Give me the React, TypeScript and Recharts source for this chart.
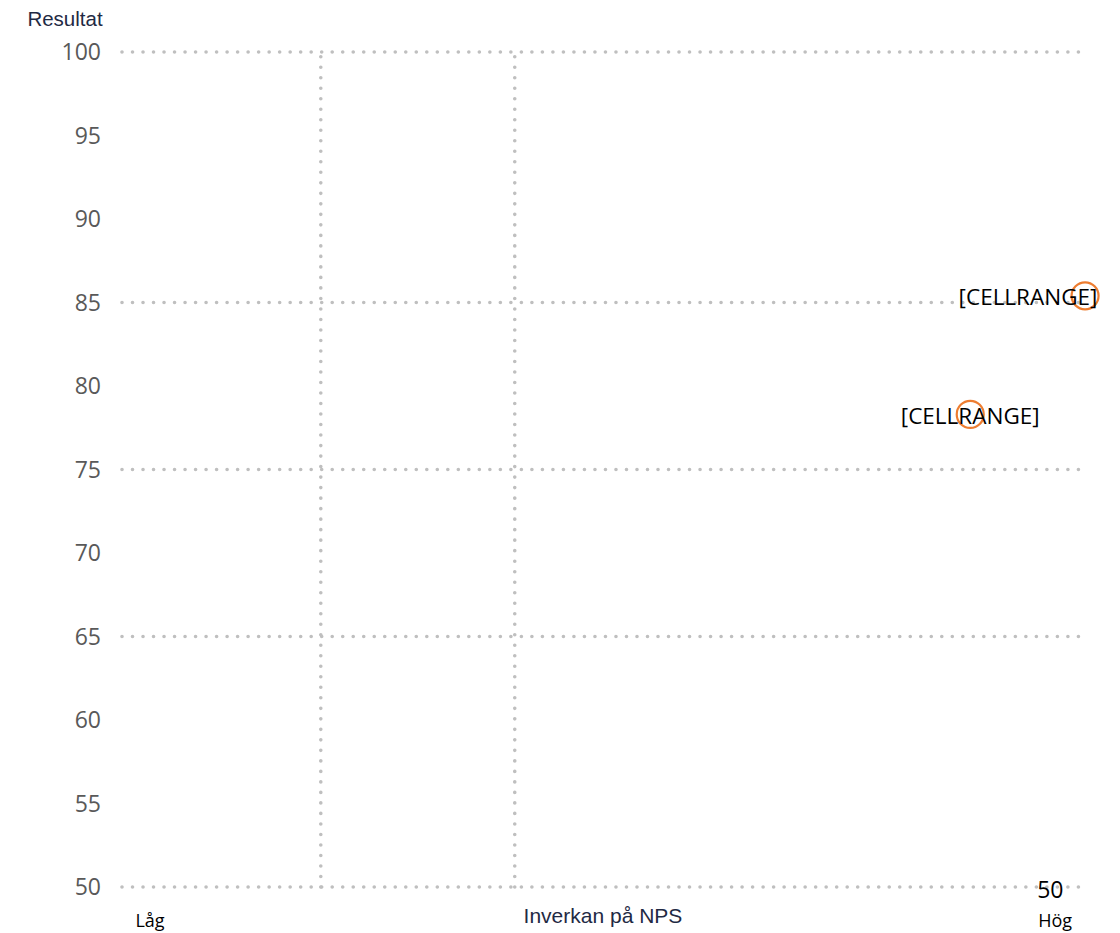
import React from 'react';
import {
  ScatterChart, Scatter, XAxis, YAxis, ReferenceLine, LabelList
} from 'recharts';

// Värden
const yTicks = [50, 55, 60, 65, 70, 75, 80, 85, 90, 95, 100];
const gridY = [50, 65, 75, 85, 100];
const avgX = [20.6, 40.7];
const xTicks = [2.9, 96.7];
const xTickLabels = ['Låg', 'Hög'];

const points = [
  { x: 99.8, y: 85.4, label: '[CELLRANGE]' },
  { x: 87.9, y: 78.3, label: '[CELLRANGE]' },
];
const extraPoints = [{ x: 96.2, y: 50, label: '50' }];

const W = 1120;
const H = 933;
const GRID = '#BFBFBF';
const ORANGE = '#ED7D31';
const NAVY = '#1F2A44';

const dotted = {
  stroke: GRID,
  strokeWidth: 3.6,
  strokeDasharray: '0.01 10.5',
  strokeLinecap: 'round' as const,
};

const Ring = (props: any) => {
  const { cx, cy } = props;
  return <circle cx={cx} cy={cy} r={13.5} fill="none" stroke={ORANGE} strokeWidth={2.2} />;
};

const NoShape = () => <g />;

const centerOf = (props: any) => {
  const vb = props.viewBox;
  if (vb && vb.width != null) {
    return { cx: vb.x + vb.width / 2, cy: vb.y + vb.height / 2 };
  }
  return { cx: props.x, cy: props.y };
};

// etiketten centreras på punkten men hålls inom diagrammet
const renderCellLabel = (props: any) => {
  const { value } = props;
  let { cx, cy } = centerOf(props);
  const half = 70;
  if (cx + half > 1098) cx = 1098 - half;
  return (
    <text x={cx} y={cy + 1} textAnchor="middle" dominantBaseline="central"
      fontFamily="'Open Sans', sans-serif" fontSize={22.5} fill="#000">
      {value}
    </text>
  );
};

const renderFiftyLabel = (props: any) => {
  const { value } = props;
  const { cx, cy } = centerOf(props);
  return (
    <text x={cx} y={cy + 2} textAnchor="middle" dominantBaseline="central"
      fontFamily="'Open Sans', sans-serif" fontSize={23} fill="#000">
      {value}
    </text>
  );
};

const XTick = (props: any) => {
  const { x, y, payload } = props;
  const i = xTicks.indexOf(payload.value);
  return (
    <text x={x} y={y} textAnchor="middle" dominantBaseline="central"
      fontFamily="'Open Sans', sans-serif" fontSize={18} fill="#000">
      {xTickLabels[i]}
    </text>
  );
};

const App: React.FC = () => {
  return (
    <div style={{ position: 'absolute', left: 0, top: 0, width: W, height: H, background: '#fff' }}>
      <ScatterChart width={W} height={H} margin={{ top: 52, right: 33, bottom: 0, left: 0 }}>
        <XAxis
          type="number"
          dataKey="x"
          domain={[0, 100]}
          ticks={xTicks}
          tick={<XTick />}
          axisLine={false}
          tickLine={false}
          tickSize={0}
          tickMargin={33}
          height={46}
        />
        <YAxis
          type="number"
          dataKey="y"
          domain={[50, 100]}
          ticks={yTicks}
          interval={0}
          axisLine={false}
          tickLine={false}
          tickSize={0}
          tickMargin={21}
          width={122}
          tick={{ fill: '#595959', fontSize: 23, fontFamily: "'Open Sans', sans-serif" }}
        />
        {gridY.map((v) => (
          <ReferenceLine key={`h-${v}`} y={v} {...dotted} />
        ))}
        {avgX.map((v) => (
          <ReferenceLine key={`v-${v}`} x={v} {...dotted} />
        ))}
        <Scatter data={points} shape={<Ring />} isAnimationActive={false}>
          <LabelList dataKey="label" content={renderCellLabel} />
        </Scatter>
        <Scatter data={extraPoints} shape={<NoShape />} isAnimationActive={false}>
          <LabelList dataKey="label" content={renderFiftyLabel} />
        </Scatter>
        <text x={65} y={18} textAnchor="middle" dominantBaseline="central"
          fontFamily="'Liberation Sans', Arial, sans-serif" fontSize={20.5} fill={NAVY}>
          Resultat
        </text>
        <text x={603} y={915} textAnchor="middle" dominantBaseline="central"
          fontFamily="'Liberation Sans', Arial, sans-serif" fontSize={21} fill={NAVY}>
          Inverkan på NPS
        </text>
      </ScatterChart>
    </div>
  );
};

export default App;
